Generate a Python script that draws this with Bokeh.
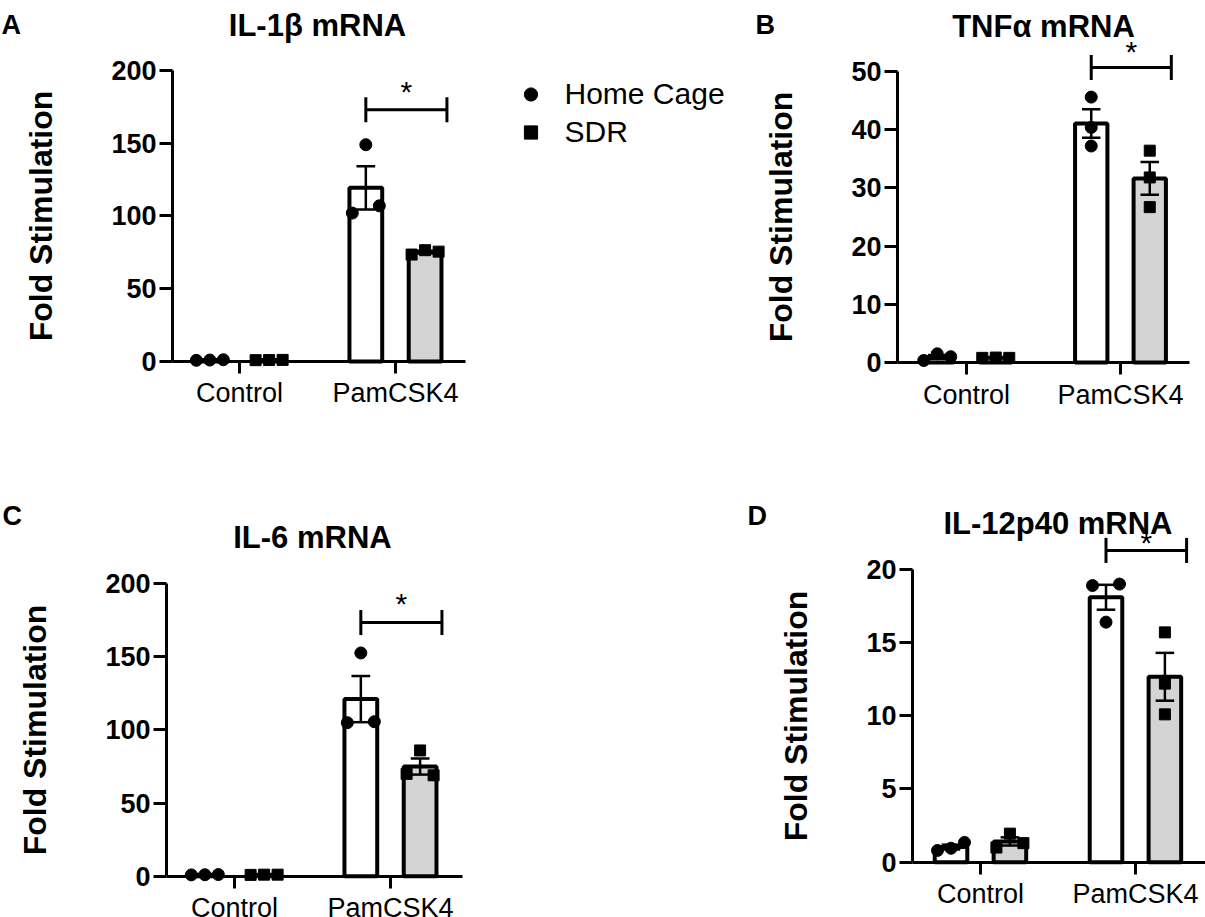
import numpy as np
from bokeh.plotting import figure
from bokeh.models import Range1d, FixedTicker, Label, Legend, LegendItem
from bokeh.layouts import row, column
from bokeh.embed import file_html
from bokeh.resources import INLINE

# ---------------- data ----------------
categories = ["Control", "PamCSK4"]
group_names = ["Home Cage", "SDR"]

il1b_title = "IL-1β mRNA"
il1b_home_control = [0.8, 1.0, 1.2]
il1b_sdr_control = [0.9, 1.0, 1.1]
il1b_home_pam = [102.0, 149.0, 107.0]
il1b_sdr_pam = [73.5, 76.5, 75.5]
il1b_ticks = [0, 50, 100, 150, 200]
il1b_sig = [173.0, 187.6]        # bracket level, asterisk level

tnfa_title = "TNFα mRNA"
tnfa_home_control = [0.35, 1.5, 1.0]
tnfa_sdr_control = [0.8, 0.85, 0.8]
tnfa_home_pam = [45.6, 40.4, 37.2]
tnfa_sdr_pam = [36.4, 31.8, 26.7]
tnfa_ticks = [0, 10, 20, 30, 40, 50]
tnfa_sig = [50.7, 53.9]

il6_title = "IL-6 mRNA"
il6_home_control = [0.9, 1.0, 1.1]
il6_sdr_control = [0.9, 1.05, 1.05]
il6_home_pam = [105.0, 152.7, 105.7]
il6_sdr_pam = [70.0, 86.0, 69.0]
il6_ticks = [0, 50, 100, 150, 200]
il6_sig = [173.5, 188.6]

il12_title = "IL-12p40 mRNA"
il12_home_control = [0.8, 0.95, 1.35]
il12_sdr_control = [1.0, 1.95, 1.3]
il12_home_pam = [18.9, 19.0, 16.4]
il12_sdr_pam = [15.7, 12.2, 10.1]
il12_ticks = [0, 5, 10, 15, 20]
il12_sig = [21.3, 22.05]

# ---------------- style ----------------
FONT = "Liberation Sans"
BAR_W = 0.21
OFFSET = 0.19
CAP_W = 0.12
SPREAD_PX = 13.5
MARK = 12
SDR_FILL = "#d4d4d4"


def spread(vals, ppy, ppx):
    n = len(vals)
    parent = list(range(n))

    def find(i):
        while parent[i] != i:
            i = parent[i]
        return i

    for i in range(n):
        for j in range(i + 1, n):
            if abs(vals[i] - vals[j]) * ppy < MARK:
                parent[find(j)] = find(i)
    clusters = {}
    for i in range(n):
        clusters.setdefault(find(i), []).append(i)
    offs = [0.0] * n
    for members in clusters.values():
        k = len(members)
        if k == 1:
            pattern = [0.0]
        elif k == 2:
            pattern = [-1.0, 1.0]
        else:
            pattern = [i - (k - 1) / 2 for i in range(k)]
        for m, s in zip(members, pattern):
            offs[m] = s * SPREAD_PX / ppx
    return offs


def make_panel(title, letter, home, sdr, ticks, sig, lay, with_legend=False):
    W, H, (x0, x1), (y0, y1), yaxis_x, xaxis_end, title_base, letter_px, letter_base = lay
    ppx, ppy = W / (x1 - x0), H / (y1 - y0)

    def dx(px):
        return x0 + px / ppx

    def dy(py):
        return y1 - py / ppy

    p = figure(width=W, height=H, x_range=Range1d(x0, x1), y_range=Range1d(y0, y1),
               output_backend="svg", toolbar_location=None, title=None,
               min_border_left=0, min_border_right=0,
               min_border_top=0, min_border_bottom=0)
    p.outline_line_color = None
    p.grid.visible = False
    p.background_fill_color = "white"
    p.border_fill_color = "white"

    groups = [(home, -1, "white", "circle", 12), (sdr, 1, SDR_FILL, "square", 11)]
    # bars
    for vals_list, sign, fill, marker, msize in groups:
        centers = [ci + sign * OFFSET for ci in range(len(categories))]
        means = [float(np.mean(v)) for v in vals_list]
        p.vbar(x=centers, top=means, bottom=0, width=BAR_W, fill_color=fill,
               line_color="black", line_width=4)
    # error bars (mean +- SEM)
    for vals_list, sign, fill, marker, msize in groups:
        cx = np.array([ci + sign * OFFSET for ci in range(len(categories))])
        means = np.array([np.mean(v) for v in vals_list])
        sems = np.array([np.std(v, ddof=1) / np.sqrt(len(v)) for v in vals_list])
        lo, hi = means - sems, means + sems
        p.segment(x0=cx, y0=lo, x1=cx, y1=hi, line_color="black", line_width=2.5)
        p.segment(x0=cx - CAP_W / 2, y0=hi, x1=cx + CAP_W / 2, y1=hi, line_color="black", line_width=2.5)
        p.segment(x0=cx - CAP_W / 2, y0=lo, x1=cx + CAP_W / 2, y1=lo, line_color="black", line_width=2.5)
    # individual points
    pt_renderers = []
    for vals_list, sign, fill, marker, msize in groups:
        xs, ys = [], []
        for ci, v in enumerate(vals_list):
            offs = spread(list(v), ppy, ppx)
            xs += [ci + sign * OFFSET + o for o in offs]
            ys += list(v)
        r = p.scatter(x=xs, y=ys, marker=marker, size=msize, fill_color="black",
                      line_color="black")
        pt_renderers.append(r)

    # significance bracket
    ip = categories.index("PamCSK4")
    bx0, bx1 = ip - OFFSET, ip + 0.33
    h = 12.5 / ppy
    lvl = sig[0]
    p.segment(x0=[bx0, bx0, bx1], y0=[lvl, lvl - h, lvl - h],
              x1=[bx1, bx0, bx1], y1=[lvl, lvl + h, lvl + h],
              line_color="black", line_width=3)
    p.add_layout(Label(x=(bx0 + bx1) / 2, y=sig[1], text="*", text_align="center",
                       text_baseline="middle", y_offset=-3, text_font=FONT,
                       text_font_size="30px", text_color="black"))

    # title and panel letter
    p.add_layout(Label(x=0.5, y=dy(title_base), text=title, text_align="center",
                       text_baseline="alphabetic", text_font=FONT, text_font_size="31px",
                       text_font_style="bold", text_color="black"))
    p.add_layout(Label(x=dx(letter_px), y=dy(letter_base), text=letter, text_align="left",
                       text_baseline="alphabetic", text_font=FONT, text_font_size="27px",
                       text_font_style="bold", text_color="black"))

    # axes
    xa = p.xaxis[0]
    xa.ticker = FixedTicker(ticks=list(range(len(categories))))
    xa.major_label_overrides = {i: c for i, c in enumerate(categories)}
    xa.fixed_location = 0
    xa.bounds = (yaxis_x, xaxis_end)
    xa.axis_line_width = 3
    xa.axis_line_color = "black"
    xa.major_tick_line_width = 3
    xa.major_tick_out = 12
    xa.major_tick_in = 0
    xa.minor_tick_out = 0
    xa.minor_tick_in = 0
    xa.major_label_standoff = 5
    xa.major_label_text_font = FONT
    xa.major_label_text_font_size = "27px"
    xa.major_label_text_color = "black"

    ya = p.yaxis[0]
    ya.ticker = FixedTicker(ticks=ticks)
    ya.fixed_location = yaxis_x
    ya.bounds = (0, ticks[-1])
    ya.axis_line_width = 3
    ya.axis_line_color = "black"
    ya.major_tick_line_width = 3
    ya.major_tick_out = 13
    ya.major_tick_in = 0
    ya.minor_tick_out = 0
    ya.minor_tick_in = 0
    ya.major_label_standoff = 3
    ya.major_label_text_font = FONT
    ya.major_label_text_font_size = "27px"
    ya.major_label_text_font_style = "bold"
    ya.major_label_text_color = "black"
    ya.axis_label = "Fold Stimulation"
    ya.axis_label_text_font = FONT
    ya.axis_label_text_font_size = "32px"
    ya.axis_label_text_font_style = "bold"
    ya.axis_label_text_color = "black"
    ya.axis_label_standoff = 49

    if with_legend:
        legend = Legend(items=[LegendItem(label=group_names[0], renderers=[pt_renderers[0]]),
                               LegendItem(label=group_names[1], renderers=[pt_renderers[1]])],
                        location=(513.5, H - 150), glyph_width=33, glyph_height=36,
                        label_height=36, spacing=2, padding=0, margin=0,
                        label_standoff=18, label_text_font=FONT,
                        label_text_font_size="30px", label_text_color="black",
                        border_line_color=None, background_fill_alpha=0)
        p.add_layout(legend)
    return p


# layout: width, height, x range, y range, y-axis x position, x-axis end,
#         title baseline (px from top), letter left (px), letter baseline (px from top)
lay_a = (745, 458, (-1.532, 3.244), (-66.67, 248.1), -0.4295, 1.4487, 25, 1, 24)
lay_b = (460, 458, (-1.435, 1.552), (-16.49, 62.2), -0.448, 1.448, 26, 10, 24)
lay_c = (745, 459, (-1.5, 3.276), (-28.25, 285.7), -0.436, 1.4615, 78.7, 2, 57)
lay_d = (460, 459, (-1.516, 1.452), (-3.78, 27.58), -0.439, 1.452, 65.3, 2, 57)

pA = make_panel(il1b_title, "A", [il1b_home_control, il1b_home_pam],
                [il1b_sdr_control, il1b_sdr_pam], il1b_ticks, il1b_sig, lay_a, with_legend=True)
pB = make_panel(tnfa_title, "B", [tnfa_home_control, tnfa_home_pam],
                [tnfa_sdr_control, tnfa_sdr_pam], tnfa_ticks, tnfa_sig, lay_b)
pC = make_panel(il6_title, "C", [il6_home_control, il6_home_pam],
                [il6_sdr_control, il6_sdr_pam], il6_ticks, il6_sig, lay_c)
pD = make_panel(il12_title, "D", [il12_home_control, il12_home_pam],
                [il12_sdr_control, il12_sdr_pam], il12_ticks, il12_sig, lay_d)

layout = column(row(pA, pB), row(pC, pD))
open("out.html", "w").write(file_html(layout, INLINE))
